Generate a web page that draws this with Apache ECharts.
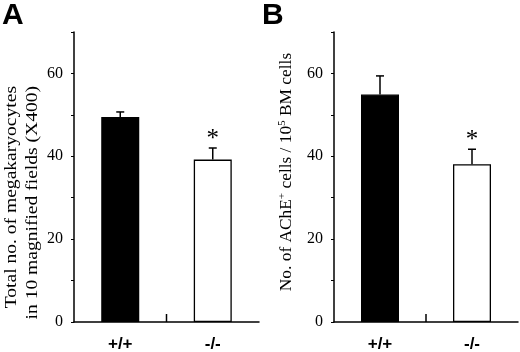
<!DOCTYPE html>
<html>
<head>
<meta charset="utf-8">
<script src="https://cdn.jsdelivr.net/npm/echarts@6/dist/echarts.min.js"></script>
<style>
html, body { margin: 0; padding: 0; background: #fff; }
#chart { width: 520px; height: 352px; }
</style>
</head>
<body>
<div id="chart"></div>
<script>
// values
var genotypes = ['+/+', '-/-'];
var megaMean = [49.5, 39.2];   // panel A
var megaErr = [1.2, 2.8];
var acheMean = [54.9, 38.1];   // panel B
var acheErr = [4.5, 3.6];
var marks = ['', '*'];
var yTickLabels = [0, 20, 40, 60];

var serif = '"Liberation Serif", "Times New Roman", serif';
var sans = '"Liberation Sans", Arial, sans-serif';

var mychart = echarts.init(document.getElementById('chart'));

function errItems(mean, err) {
    return mean.map(function (m, i) {
        return [i, m, err[i]];
    });
}

function renderErr(params, api) {
    var i = api.value(0);
    var mean = api.value(1);
    var top = api.coord([i, mean + api.value(2)]);
    var bot = api.coord([i, mean]);
    var pen = { stroke: '#000', lineWidth: 1.5 };
    var kids = [
        { type: 'line', shape: { x1: bot[0], y1: bot[1], x2: top[0], y2: top[1] }, style: pen },
        { type: 'line', shape: { x1: top[0] - 4, y1: top[1], x2: top[0] + 4, y2: top[1] }, style: pen }
    ];
    var mark = marks[params.dataIndex];
    if (mark) {
        kids.push({
            type: 'text',
            style: {
                text: mark, x: top[0], y: top[1] - 9,
                align: 'center', verticalAlign: 'middle',
                fontSize: 25, fontFamily: serif, fill: '#000'
            }
        });
    }
    // small divider tick between the two groups
    if (params.dataIndex === 0) {
        var zero = api.coord([0, 0]);
        var band = api.size([1, 0])[0];
        kids.push({
            type: 'line',
            shape: { x1: zero[0] + band / 2, y1: zero[1], x2: zero[0] + band / 2, y2: zero[1] - 8 },
            style: pen
        });
    }
    return { type: 'group', children: kids };
}

function xAx(gi) {
    return {
        type: 'category',
        gridIndex: gi,
        data: genotypes,
        axisLine: { lineStyle: { color: '#000', width: 1.5 } },
        axisTick: { show: false },
        axisLabel: { color: '#000', fontFamily: sans, fontWeight: 'bold', fontSize: 17, margin: 14 }
    };
}

function yAx(gi) {
    return {
        type: 'value',
        gridIndex: gi,
        min: 0,
        max: 70,
        interval: 10,
        splitLine: { show: false },
        axisLine: { show: true, lineStyle: { color: '#000', width: 1.5 } },
        axisTick: { show: true, length: 3, lineStyle: { color: '#000', width: 1 } },
        axisLabel: {
            color: '#000', fontFamily: serif, fontSize: 16, margin: 11,
            formatter: function (v) { return yTickLabels.indexOf(v) >= 0 ? String(v) : ''; }
        }
    };
}

function barSeries(gi, mean) {
    return {
        type: 'bar',
        xAxisIndex: gi,
        yAxisIndex: gi,
        barWidth: 38,
        data: mean,
        itemStyle: {
            color: function (p) { return p.dataIndex === 0 ? '#000' : '#fff'; },
            borderColor: '#000',
            borderWidth: 1.3
        }
    };
}

function errSeries(gi, mean, err) {
    return {
        type: 'custom',
        xAxisIndex: gi,
        yAxisIndex: gi,
        z: 5,
        renderItem: renderErr,
        data: errItems(mean, err)
    };
}

var option = {
    animation: false,
    backgroundColor: '#fff',
    grid: [
        { left: 74, right: 261, top: 32, bottom: 30, outerBoundsMode: 'none' },
        { left: 334, right: 2, top: 32, bottom: 30, outerBoundsMode: 'none' }
    ],
    xAxis: [xAx(0), xAx(1)],
    yAxis: [yAx(0), yAx(1)],
    series: [
        barSeries(0, megaMean),
        errSeries(0, megaMean, megaErr),
        barSeries(1, acheMean),
        errSeries(1, acheMean, acheErr)
    ],
    graphic: [
        {
            type: 'text', left: 2, top: 1,
            style: { text: 'A', fontFamily: sans, fontWeight: 'bold', fontSize: 30, fill: '#000' }
        },
        {
            type: 'text', left: 262, top: 1,
            style: { text: 'B', fontFamily: sans, fontWeight: 'bold', fontSize: 30, fill: '#000' }
        },
        {
            type: 'text', x: 22, y: 86, rotation: Math.PI / 2, scaleX: 1.15,
            style: {
                text: 'Total no. of megakaryocytes\nin 10 magnified fields (X400)',
                fontFamily: serif, fontSize: 17, lineHeight: 21, fill: '#000',
                align: 'right', verticalAlign: 'middle'
            }
        },
        {
            type: 'text', x: 287, y: 172, rotation: Math.PI / 2, scaleX: 1.02,
            style: {
                text: 'No. of AChE{sup|+} cells / 10{sup|5} BM cells',
                fontFamily: serif, fontSize: 17, lineHeight: 20, fill: '#000',
                align: 'center', verticalAlign: 'middle',
                rich: {
                    sup: { fontFamily: serif, fontSize: 11, verticalAlign: 'top', lineHeight: 20, fill: '#000' }
                }
            }
        }
    ]
};

mychart.setOption(option);
</script>
</body>
</html>
